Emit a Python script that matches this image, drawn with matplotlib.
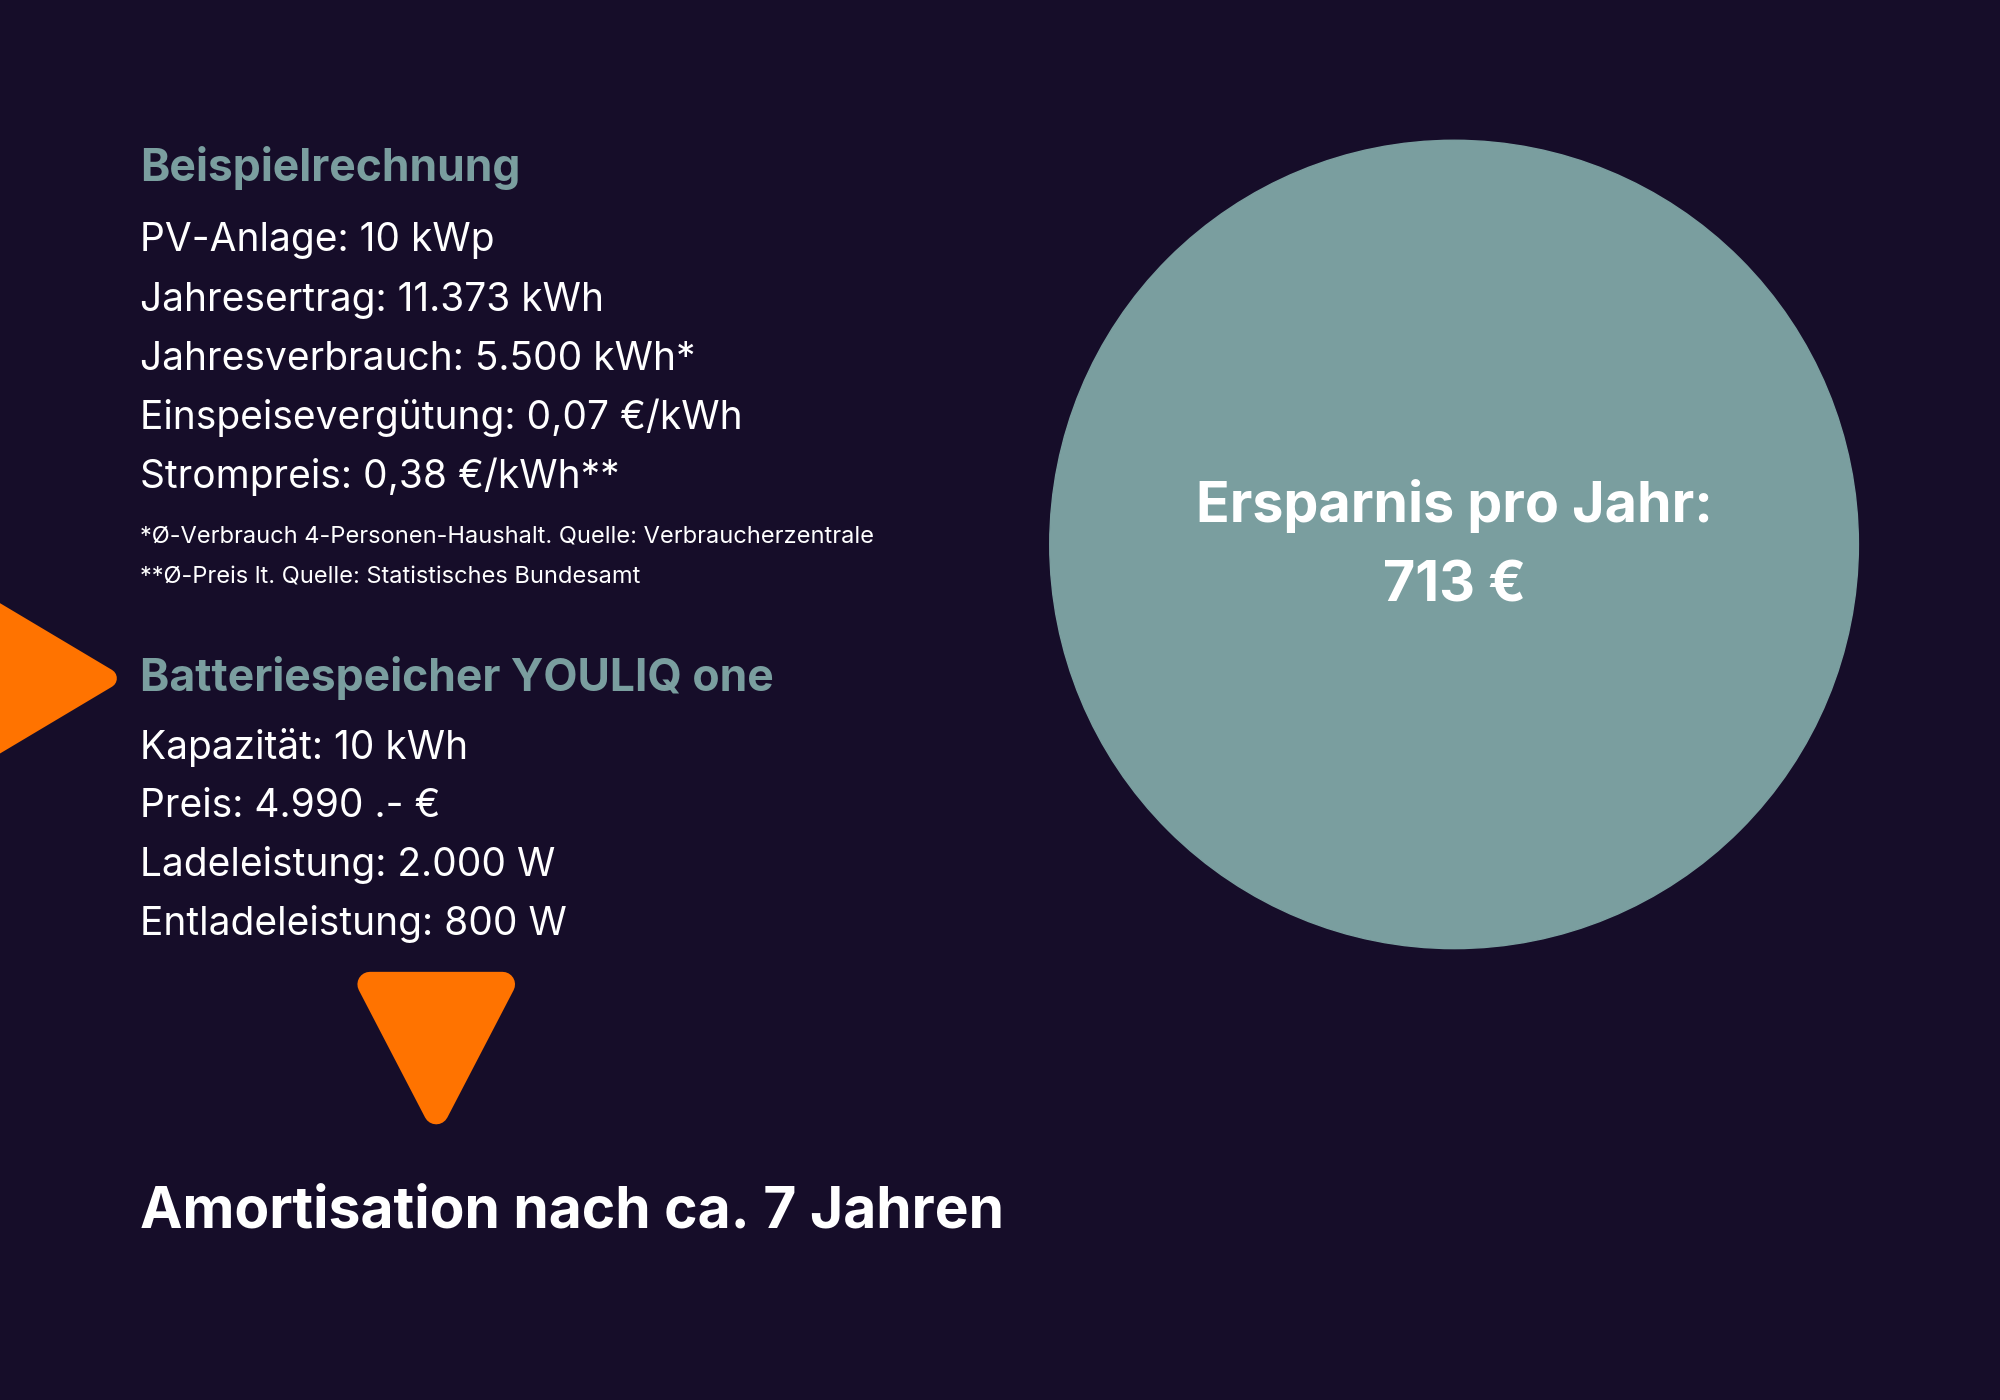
import matplotlib
matplotlib.use("Agg")
import matplotlib.pyplot as plt
from matplotlib.patches import Circle, Polygon

plt.rcParams['font.family'] = ['Inter', 'DejaVu Sans']

BG = "#160d29"; TEAL = "#7a9e9f"; ORANGE = "#ff7300"

heading1 = "Beispielrechnung"
lines1 = ["PV-Anlage: 10 kWp", "Jahresertrag: 11.373 kWh", "Jahresverbrauch: 5.500 kWh*",
          "Einspeisevergütung: 0,07 €/kWh", "Strompreis: 0,38 €/kWh**"]
notes = ["*Ø-Verbrauch 4-Personen-Haushalt. Quelle: Verbraucherzentrale",
         "**Ø-Preis lt. Quelle: Statistisches Bundesamt"]
heading2 = "Batteriespeicher YOULIQ one"
lines2 = ["Kapazität: 10 kWh", "Preis: 4.990 .- €", "Ladeleistung: 2.000 W", "Entladeleistung: 800 W"]
saving_label = "Ersparnis pro Jahr:"
saving_value = 713
footer = "Amortisation nach ca. 7 Jahren"

fig = plt.figure(figsize=(20, 14), dpi=100, facecolor=BG)
ax = fig.add_axes([0, 0, 1, 1])
ax.set_xlim(0, 1568); ax.set_ylim(1098, 0); ax.axis('off'); ax.set_facecolor(BG)

ax.add_patch(Circle((1140, 427), 317, color=TEAL))
ax.text(1140, 397, saving_label, color="white", fontsize=40, fontweight='bold', ha='center', va='center')
ax.text(1140, 460, f"{saving_value} €", color="white", fontsize=40, fontweight='bold', ha='center', va='center')

x0 = 110
ax.text(x0, 132, heading1, color=TEAL, fontsize=32, fontweight='bold', va='center')
for i, t in enumerate(lines1):
    ax.text(x0, 189 + 46.3 * i, t, color="white", fontsize=28, va='center')
for i, t in enumerate(notes):
    ax.text(x0, 421 + 32 * i, t, color="white", fontsize=17, va='center')
ax.text(x0, 532, heading2, color=TEAL, fontsize=32, fontweight='bold', va='center')
for i, t in enumerate(lines2):
    ax.text(x0, 586 + 46.3 * i, t, color="white", fontsize=28, va='center')
ax.text(x0, 951, footer, color="white", fontsize=41, fontweight='bold', va='center')

ax.add_patch(Polygon([(-20, 470), (84, 532), (-20, 594)], closed=True, color=ORANGE,
                     lw=14, joinstyle='round'))
ax.add_patch(Polygon([(290, 772), (394, 772), (342, 872)], closed=True, color=ORANGE,
                     lw=18, joinstyle='round'))

fig.savefig("out.png", facecolor=BG)
